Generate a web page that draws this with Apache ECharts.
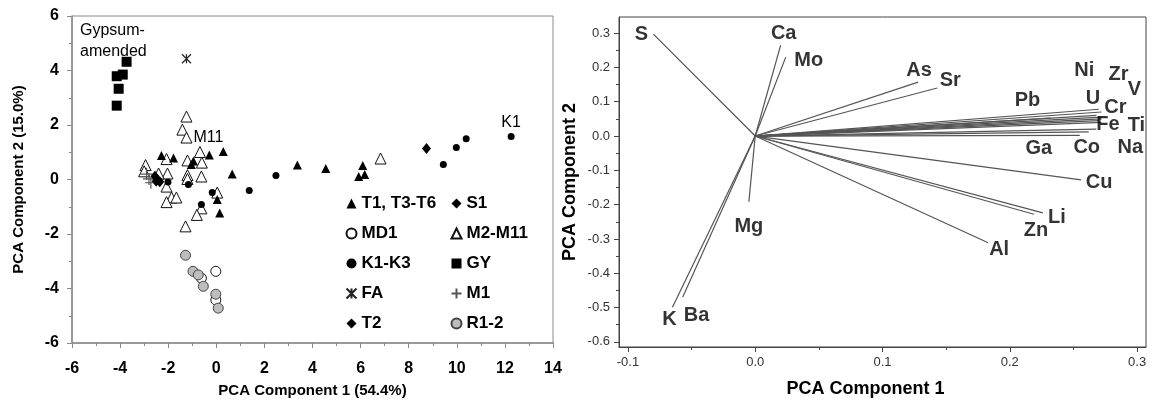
<!DOCTYPE html>
<html>
<head>
<meta charset="utf-8">
<title>PCA</title>
<script src="https://cdn.jsdelivr.net/npm/echarts@6/dist/echarts.min.js"></script>
</head>
<body style="margin:0">
<div id="main" style="width:1155px;height:408px;"></div>
<script type="text/javascript">
// --- scores (left panel) ---
var t1T3T6 = [[-2.28,0.88],[-1.78,0.79],[-0.95,0.68],[-1.04,0.55],[-0.29,0.90],[0.29,1.03],[0.66,0.20],[0.04,-0.73],[0.14,-1.23],[3.37,0.53],[4.55,0.40],[6.09,0.51],[5.92,0.11],[6.17,0.18]];
var s1 = [[8.74,1.14]];
var md1 = [[-0.02,-3.37],[-0.62,-3.62],[-0.02,-4.42]];
var m2M11 = [[-1.24,2.31],[-1.41,1.83],[-1.24,1.54],[-2.94,0.53],[-3.0,0.3],[-2.07,0.75],[-1.20,0.70],[-0.68,1.01],[-0.60,0.62],[-2.03,0.22],[-2.4,0.22],[-1.20,0.16],[-0.62,0.11],[-1.20,0.02],[-2.07,-0.26],[-1.86,-0.66],[-1.66,-0.66],[-2.07,-0.83],[0.04,-0.48],[-0.62,-1.06],[-0.81,-1.30],[-1.28,-1.72],[6.83,0.77]];
var k1K3 = [[-2.01,-0.09],[-1.16,-0.18],[-0.17,-0.48],[-0.62,-0.92],[1.37,-0.40],[2.48,0.15],[9.44,0.55],[9.98,1.17],[10.39,1.50],[12.26,1.58]];
var gy = [[-3.73,4.32],[-3.89,3.85],[-4.14,3.79],[-4.06,3.33],[-4.14,2.71]];
var fa = [[-1.24,4.43]];
var m1 = [[-2.9,0.2],[-2.8,0.02],[-2.72,-0.12]];
var t2 = [[-2.55,0.12],[-2.45,0.0],[-2.35,-0.08],[-2.5,-0.06]];
var r12 = [[-1.28,-2.78],[-0.97,-3.37],[-0.75,-3.50],[-0.54,-3.92],[-0.02,-4.21],[0.08,-4.72]];

// --- loadings (right panel) ---
var elements = ['S','Ca','Mo','As','Sr','Pb','Ni','Zr','V','U','Cr','Fe','Ti','Ga','Co','Na','Cu','Li','Zn','Al','Mg','K','Ba'];
var pc1 = [-0.080,0.020,0.024,0.128,0.143,0.232,0.268,0.272,0.272,0.270,0.272,0.270,0.272,0.255,0.262,0.268,0.256,0.226,0.219,0.183,-0.005,-0.065,-0.057];
var pc2 = [0.297,0.265,0.230,0.157,0.140,0.052,0.060,0.055,0.050,0.078,0.070,0.045,0.040,0.002,0.012,0.020,-0.128,-0.224,-0.228,-0.311,-0.192,-0.499,-0.470];

// tick values for the right panel
var rxTicks = [-0.1,0,0.1,0.2,0.3];
var rxMinor = [-0.05,0.05,0.15,0.25];
var ryTicks = [-0.6,-0.5,-0.4,-0.3,-0.2,-0.1,0,0.1,0.2,0.3];
var ryMinor = [-0.55,-0.45,-0.35,-0.25,-0.15,-0.05,0.05,0.15,0.25];

// label placement (pixels, relative to vector tip)
var labelOffset = {
    S:[-12,0], Ca:[3,-12], Mo:[23,3], As:[1,-12], Sr:[13,-8], Pb:[-23,-18],
    Ni:[-12,-45], Zr:[17,-43], V:[33,-29], U:[-6,-11], Cr:[14,-5], Fe:[9,4],
    Ti:[35,3], Ga:[-41,13], Co:[-2,16], Na:[34,18], Cu:[18,3], Li:[14,5],
    Zn:[2,16], Al:[11,7], Mg:[0,25], K:[-3,12], Ba:[14,18]
};

var myChart = echarts.init(document.getElementById('main'));

var FONT = 'Liberation Sans, Arial, sans-serif';
var star = 'path://M0,0L10,10M10,0L0,10M5,0L5,10';
var plus = 'path://M5,0L5,10M0,5L10,5';

var vecData = [];
var tipData = [];
for (var i = 0; i < elements.length; i++) {
    vecData.push({coords: [[0, 0], [pc1[i], pc2[i]]]});
    tipData.push({
        name: elements[i],
        value: [pc1[i], pc2[i]],
        label: {offset: labelOffset[elements[i]]}
    });
}

function leftAxis(name, min, max, gap, labelMargin) {
    return {
        type: 'value', gridIndex: 0, min: min, max: max, interval: 2,
        name: name, nameLocation: 'middle', nameGap: gap,
        nameTextStyle: {fontFamily: FONT, fontWeight: 'bold', fontSize: 15, color: '#000'},
        axisLine: {show: true, onZero: false, lineStyle: {color: '#8a8a8a', width: 1.5}},
        axisTick: {show: true, inside: false, length: 5, lineStyle: {color: '#8a8a8a'}},
        minorTick: {show: true, splitNumber: 2, length: 3, lineStyle: {color: '#8a8a8a'}},
        axisLabel: {fontFamily: FONT, fontWeight: 'bold', fontSize: 16, color: '#000', margin: labelMargin},
        splitLine: {show: false}
    };
}

var legendText = {fontFamily: FONT, fontWeight: 'bold', fontSize: 17, color: '#000'};

var option = {
    animation: false,
    backgroundColor: '#fff',
    grid: [
        {left: 72, top: 16, width: 481, height: 327, show: true, borderColor: '#8a8a8a', borderWidth: 1},
        {left: 619, top: 17, right: 9, bottom: 61, show: true, borderColor: '#444', borderWidth: 1}
    ],
    legend: [
        {
            orient: 'vertical', left: 344, top: 195, padding: 0, itemGap: 13,
            itemWidth: 10, itemHeight: 10, selectedMode: false, textStyle: legendText,
            data: ['T1, T3-T6', 'MD1', 'K1-K3', 'FA', 'T2']
        },
        {
            orient: 'vertical', left: 449, top: 195, padding: 0, itemGap: 13,
            itemWidth: 10, itemHeight: 10, selectedMode: false, textStyle: legendText,
            data: ['S1', 'M2-M11', 'GY', 'M1', 'R1-2']
        }
    ],
    graphic: [{
        type: 'text', left: 80, top: 20,
        style: {text: 'Gypsum-\namended', fontFamily: FONT, fontSize: 16, lineHeight: 21, fill: '#000'}
    }],
    xAxis: [
        leftAxis('PCA Component 1 (54.4%)', -6, 14, 40, 18),
        {
            type: 'value', gridIndex: 1, min: -0.107, max: 0.307,
            name: 'PCA Component 1', nameLocation: 'middle', nameGap: 33,
            nameTextStyle: {fontFamily: FONT, fontWeight: 'bold', fontSize: 18, color: '#000', padding: [0, 34, 0, 0]},
            axisLine: {show: true, onZero: false, lineStyle: {color: '#444'}},
            axisTick: {show: true, length: 5, customValues: rxTicks, lineStyle: {color: '#444'}},
            axisLabel: {customValues: rxTicks, fontFamily: FONT, fontSize: 13, color: '#333', margin: 9,
                formatter: function (v) { return v.toFixed(1); }},
            splitLine: {show: false}
        },
        {
            type: 'value', gridIndex: 1, min: -0.107, max: 0.307, position: 'bottom',
            axisLine: {show: false, onZero: false}, axisLabel: {show: false}, splitLine: {show: false},
            axisTick: {show: true, length: 3, customValues: rxMinor, lineStyle: {color: '#444'}}
        }
    ],
    yAxis: [
        leftAxis('PCA Component 2 (15.0%)', -6, 6, 46, 13),
        {
            type: 'value', gridIndex: 1, min: -0.615, max: 0.347,
            name: 'PCA Component 2', nameLocation: 'middle', nameGap: 40,
            nameTextStyle: {fontFamily: FONT, fontWeight: 'bold', fontSize: 18, color: '#000'},
            axisLine: {show: true, onZero: false, lineStyle: {color: '#444'}},
            axisTick: {show: true, length: 5, customValues: ryTicks, lineStyle: {color: '#444'}},
            axisLabel: {customValues: ryTicks, fontFamily: FONT, fontSize: 13, color: '#333', margin: 9,
                formatter: function (v) { return v.toFixed(1); }},
            splitLine: {show: false}
        },
        {
            type: 'value', gridIndex: 1, min: -0.615, max: 0.347, position: 'left',
            axisLine: {show: false, onZero: false}, axisLabel: {show: false}, splitLine: {show: false},
            axisTick: {show: true, length: 3, customValues: ryMinor, lineStyle: {color: '#444'}}
        }
    ],
    series: [
        {name: 'MD1', type: 'scatter', xAxisIndex: 0, yAxisIndex: 0, symbol: 'circle', symbolSize: 10,
            itemStyle: {color: '#fff', borderColor: '#111', borderWidth: 1, opacity: 1}, data: md1},
        {name: 'M2-M11', type: 'scatter', xAxisIndex: 0, yAxisIndex: 0, symbol: 'triangle', symbolSize: 11,
            itemStyle: {color: '#fff', borderColor: '#111', borderWidth: 1, opacity: 1},
            data: m2M11.map(function (p, i) {
                return i === 2 ? {value: p, label: {show: true, formatter: 'M11', position: 'right', distance: 1,
                    fontFamily: FONT, fontSize: 16, color: '#000'}} : p;
            })},
        {name: 'R1-2', type: 'scatter', xAxisIndex: 0, yAxisIndex: 0, symbol: 'circle', symbolSize: 10,
            itemStyle: {color: '#bdbdbd', borderColor: '#444', borderWidth: 1, opacity: 1}, data: r12},
        {name: 'M1', type: 'scatter', xAxisIndex: 0, yAxisIndex: 0, symbol: plus, symbolSize: 12,
            itemStyle: {color: 'none', borderColor: '#555', borderWidth: 1.2, opacity: 1}, data: m1},
        {name: 'T2', type: 'scatter', xAxisIndex: 0, yAxisIndex: 0, symbol: 'diamond', symbolSize: [9, 11],
            itemStyle: {color: '#000', opacity: 1}, data: t2},
        {name: 'T1, T3-T6', type: 'scatter', xAxisIndex: 0, yAxisIndex: 0, symbol: 'triangle', symbolSize: 9,
            itemStyle: {color: '#000', opacity: 1}, data: t1T3T6},
        {name: 'K1-K3', type: 'scatter', xAxisIndex: 0, yAxisIndex: 0, symbol: 'circle', symbolSize: 7,
            itemStyle: {color: '#000', opacity: 1},
            data: k1K3.map(function (p, i) {
                return i === k1K3.length - 1 ? {value: p, label: {show: true, formatter: 'K1', position: 'top', distance: 2,
                    fontFamily: FONT, fontSize: 16, color: '#000'}} : p;
            })},
        {name: 'S1', type: 'scatter', xAxisIndex: 0, yAxisIndex: 0, symbol: 'diamond', symbolSize: [9, 11],
            itemStyle: {color: '#000', opacity: 1}, data: s1},
        {name: 'GY', type: 'scatter', xAxisIndex: 0, yAxisIndex: 0, symbol: 'rect', symbolSize: 10,
            itemStyle: {color: '#000', opacity: 1}, data: gy},
        {name: 'FA', type: 'scatter', xAxisIndex: 0, yAxisIndex: 0, symbol: star, symbolSize: 9,
            itemStyle: {color: 'none', borderColor: '#222', borderWidth: 1.2, opacity: 1}, data: fa},

        {name: 'vectors', type: 'lines', coordinateSystem: 'cartesian2d', xAxisIndex: 1, yAxisIndex: 1,
            lineStyle: {color: '#555', width: 1.2, opacity: 1}, data: vecData},
        {name: 'tips', type: 'scatter', xAxisIndex: 1, yAxisIndex: 1, symbolSize: 1,
            itemStyle: {color: 'rgba(0,0,0,0)'},
            label: {show: true, position: 'inside', formatter: '{b}',
                fontFamily: FONT, fontWeight: 'bold', fontSize: 20, color: '#000'},
            data: tipData}
    ]
};

myChart.setOption(option);
</script>
</body>
</html>
